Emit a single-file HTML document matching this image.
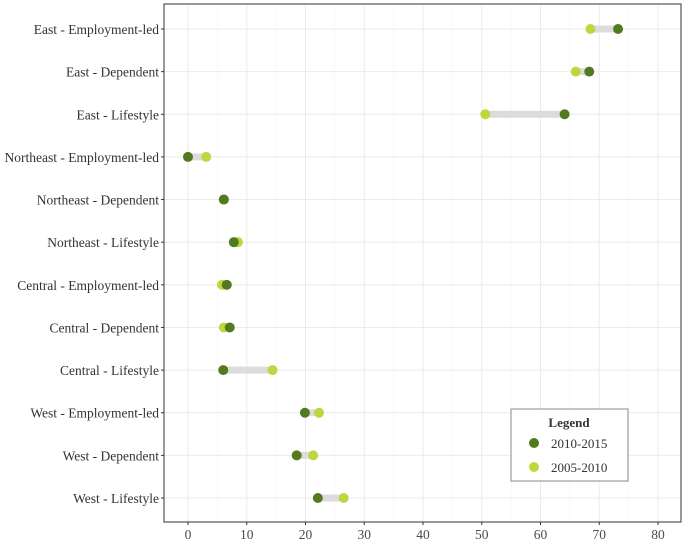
<!DOCTYPE html>
<html><head><meta charset="utf-8"><style>
body{margin:0;background:#fff;}
svg text{font-family:"Liberation Serif",serif;fill:#333;}
</style></head><body>
<svg id="chart" width="685" height="542" xmlns="http://www.w3.org/2000/svg"></svg>
<script>
const categories=["East - Employment-led","East - Dependent","East - Lifestyle","Northeast - Employment-led","Northeast - Dependent","Northeast - Lifestyle","Central - Employment-led","Central - Dependent","Central - Lifestyle","West - Employment-led","West - Dependent","West - Lifestyle"];
const values2010=[73.2,68.3,64.1,0,6.1,7.8,6.6,7.1,6.0,19.9,18.5,22.1];
const values2005=[68.5,66.0,50.6,3.1,6.1,8.5,5.8,6.1,14.4,22.3,21.3,26.5];
const xTicks=[0,10,20,30,40,50,60,70,80];
const NS="http://www.w3.org/2000/svg";
const svg=document.getElementById('chart');
const L=164,R=681,T=4,B=522;
const x=v=>188+v*5.875;
const y=i=>29+i*(498-29)/11;
function el(t,a,p){const e=document.createElementNS(NS,t);for(const k in a)e.setAttribute(k,a[k]);(p||svg).appendChild(e);return e;}
const grid=el('g',{});


xTicks.forEach(t=>{el('line',{x1:x(t),x2:x(t),y1:T,y2:B,stroke:'#ebebeb','stroke-width':1},grid);});
xTicks.slice(0,-1).forEach(t=>{el('line',{x1:x(t+5),x2:x(t+5),y1:T,y2:B,stroke:'#f5f5f5','stroke-width':0.6},grid);});
categories.forEach((c,i)=>{el('line',{x1:L,x2:R,y1:y(i),y2:y(i),stroke:'#ebebeb','stroke-width':1},grid);});
categories.forEach((c,i)=>{
  const g=el('g',{});
  
  
  el('line',{x1:x(values2010[i]),x2:x(values2005[i]),y1:y(i),y2:y(i),stroke:'#dcdcdc','stroke-width':7},g);
  const p1=el('circle',{cx:x(values2005[i]),cy:y(i),r:5,fill:'#bcd83e'},g);
  
  
  const p2=el('circle',{cx:x(values2010[i]),cy:y(i),r:5,fill:'#527a1e'},g);
  
  
  const lb=el('text',{x:L-5,y:y(i)+5,'text-anchor':'end','font-size':13.5},g);
  lb.textContent=c;
  
  
  el('line',{x1:L-3,x2:L,y1:y(i),y2:y(i),stroke:'#333'});
});
xTicks.forEach(t=>{
  el('line',{x1:x(t),x2:x(t),y1:B,y2:B+3,stroke:'#333'});
  const tx=el('text',{x:x(t),y:B+17,'text-anchor':'middle','font-size':13.5,style:'fill:#4d4d4d'});
  tx.textContent=t;
  
  
});
const frame=el('rect',{x:L,y:T,width:R-L,height:B-T,fill:'none',stroke:'#333','stroke-width':1});


const lg=el('g',{});


el('rect',{x:511,y:409,width:117,height:72,fill:'#fff',stroke:'#888','stroke-width':1},lg);
const lt=el('text',{x:569,y:427,'text-anchor':'middle','font-size':13,'font-weight':'bold'},lg);lt.textContent='Legend';
el('circle',{cx:534,cy:443,r:5,fill:'#527a1e'},lg);
const a=el('text',{x:551,y:448,'font-size':13},lg);a.textContent='2010-2015';
el('circle',{cx:534,cy:467,r:5,fill:'#bcd83e'},lg);
const b=el('text',{x:551,y:472,'font-size':13},lg);b.textContent='2005-2010';
</script>
</body></html>
